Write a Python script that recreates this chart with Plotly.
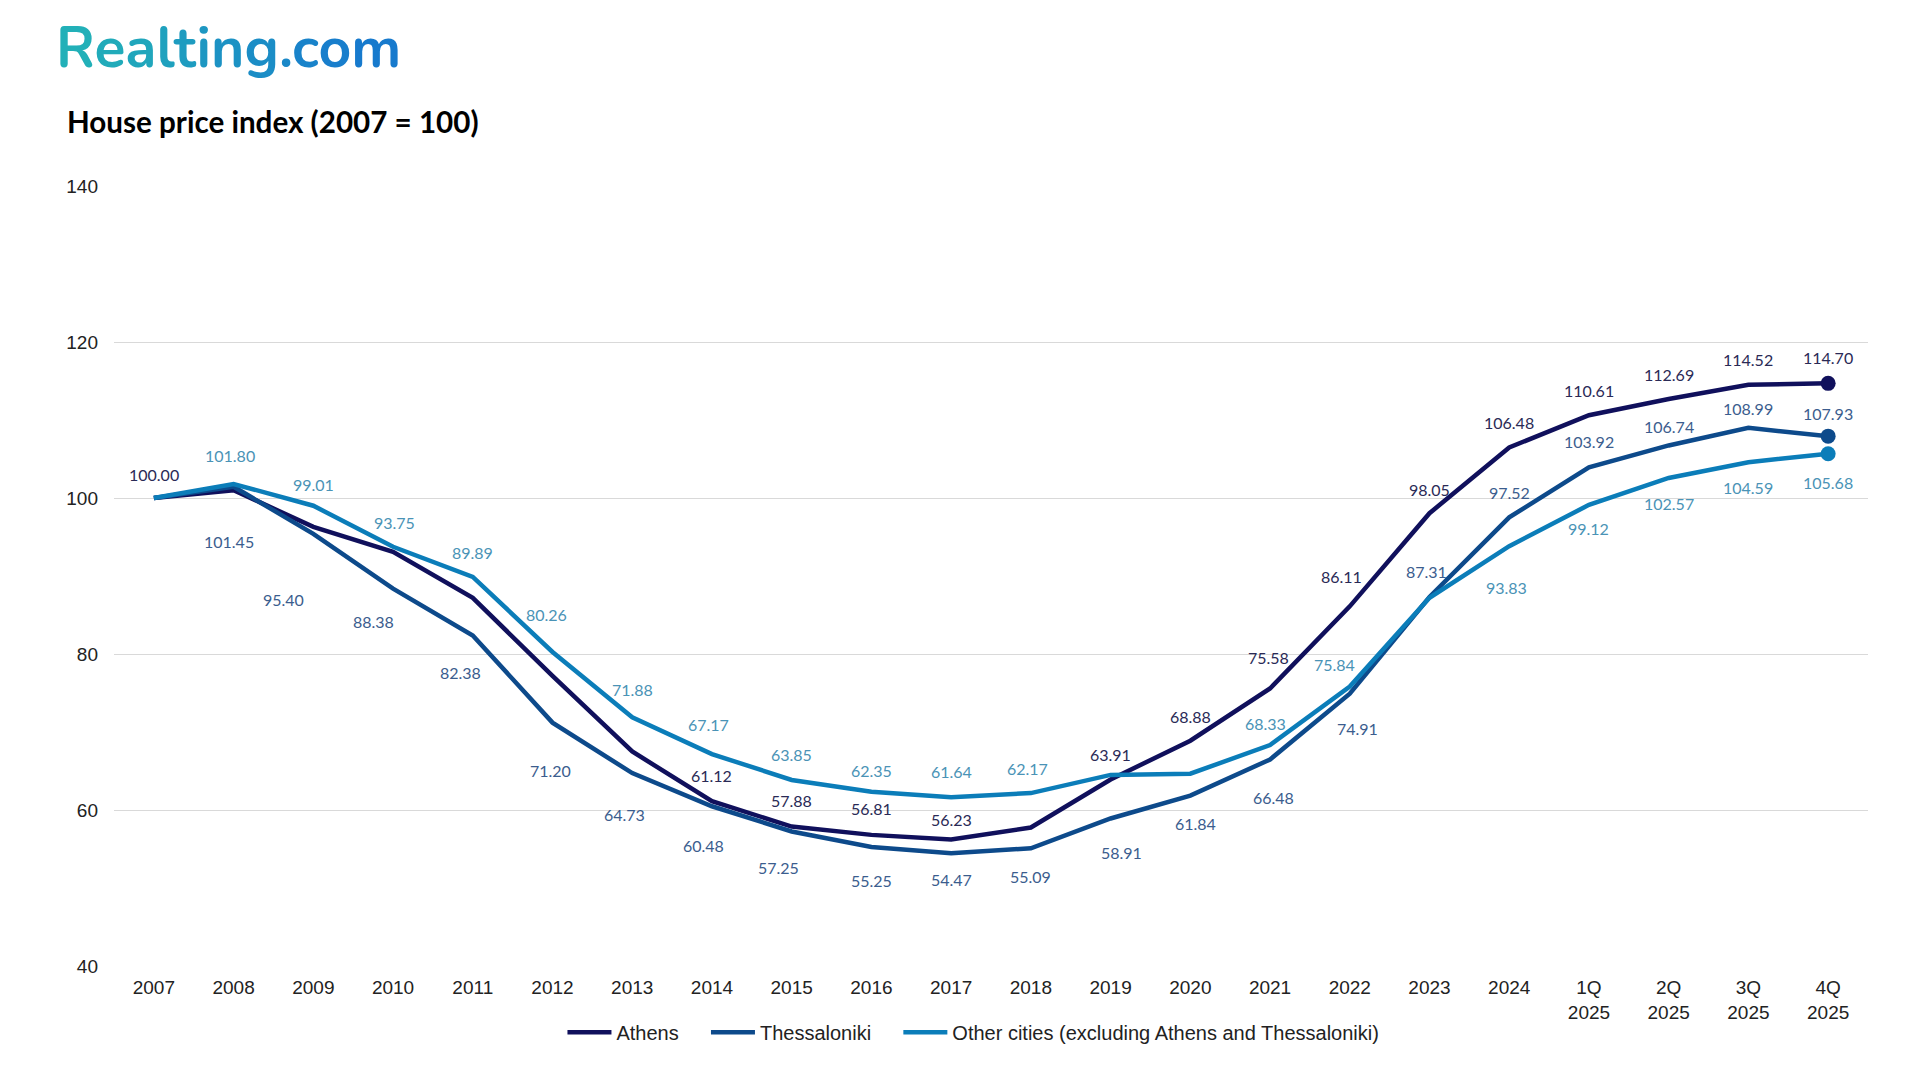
import plotly.graph_objects as go

# ---------------- data ----------------
categories = ["2007", "2008", "2009", "2010", "2011", "2012", "2013", "2014", "2015", "2016",
              "2017", "2018", "2019", "2020", "2021", "2022", "2023", "2024",
              "1Q<br>2025", "2Q<br>2025", "3Q<br>2025", "4Q<br>2025"]

athens = [100.00, 101.00, 96.30, 93.10, 87.20, 77.20, 67.50, 61.12, 57.88, 56.81, 56.23,
          57.75, 63.91, 68.88, 75.58, 86.11, 98.05, 106.48, 110.61, 112.69, 114.52, 114.70]
thessaloniki = [100.00, 101.45, 95.40, 88.38, 82.38, 71.20, 64.73, 60.48, 57.25, 55.25, 54.47,
                55.09, 58.91, 61.84, 66.48, 74.91, 87.31, 97.52, 103.92, 106.74, 108.99, 107.93]
other_cities = [100.00, 101.80, 99.01, 93.75, 89.89, 80.26, 71.88, 67.17, 63.85, 62.35, 61.64,
                62.17, 64.50, 64.65, 68.33, 75.84, 87.20, 93.83, 99.12, 102.57, 104.59, 105.68]

series_names = ["Athens", "Thessaloniki", "Other cities (excluding Athens and Thessaloniki)"]

# ---------------- styles ----------------
line_colors = ["#10105c", "#0d4a8b", "#0b7db9"]
label_colors = ["#2a2a56", "#3b5d8e", "#4a93b6"]

# label placement (pixel shifts: dx right, dy down); None = no label shown
athens_lbl = [(0, -24), None, None, None, None, None, None, (0, -26), (0, -26), (0, -26), (0, -20),
              None, (0, -25), (0, -24), (-2, -31), (-8, -30), (0, -24), (0, -25), (0, -25), (0, -25),
              (0, -25), (0, -26)]
thess_lbl = [None, (-5, 55), (-30, 66), (-20, 33), (-12, 37), (-2, 48), (-8, 41), (-8, 39), (-13, 36),
             (0, 33), (0, 26), (0, 28), (11, 34), (5, 28), (3, 38), (8, 35), (-3, -25), (0, -25),
             (0, -26), (0, -19), (0, -19), (0, -23)]
other_lbl = [None, (-4, -28), (0, -21), (1, -24), (0, -24), (-6, -37), (0, -28), (-3, -30), (0, -25),
             (0, -21), (0, -26), (-3, -25), None, None, (-5, -22), (-15, -22), None, (-3, 41),
             (0, 24), (0, 26), (0, 25), (0, 29)]

all_values = [athens, thessaloniki, other_cities]
all_labels = [athens_lbl, thess_lbl, other_lbl]

# legend entries padded to reproduce the wider spacing between items
legend_pad = "\u00a0" * 4
legend_names = [series_names[0] + legend_pad, series_names[1] + legend_pad, series_names[2]]

fig = go.Figure()

for name, vals, col in zip(legend_names, all_values, line_colors):
    fig.add_trace(go.Scatter(
        x=categories, y=vals, name=name, mode="lines",
        line=dict(color=col, width=4.5),
        hoverinfo="x+y",
    ))

# end-point markers
for vals, col in zip(all_values, line_colors):
    fig.add_trace(go.Scatter(
        x=[categories[-1]], y=[vals[-1]], mode="markers", showlegend=False,
        marker=dict(color=col, size=15), hoverinfo="skip",
    ))

annotations = []
for vals, lbls, lcol in zip(all_values, all_labels, label_colors):
    for i, (v, pos) in enumerate(zip(vals, lbls)):
        if pos is None:
            continue
        dx, dy = pos
        annotations.append(dict(
            x=i, y=v, xref="x", yref="y", text=f"{v:.2f}", showarrow=False,
            xshift=dx, yshift=-dy,
            font=dict(family="Lato, Open Sans, sans-serif", size=16, color=lcol),
        ))

W, H = 1920, 1080
ml, mr, mt, mb = 106, 60, 178, 122
pw, ph = W - ml - mr, H - mt - mb


def px_to_paper(xp, yp):
    return (xp - ml) / pw, ((H - yp) - mb) / ph


# logo (gradient approximated letter by letter)
logo = "Realting.com"
grad = ["#22b0b8", "#21abba", "#20a6bc", "#1fa1be", "#1e9cc0", "#1d97c2",
        "#1c92c4", "#1b8dc6", "#1a88c8", "#1983ca", "#187ecc", "#177acd"]
logo_html = "".join(f"<span style='color:{c}'>{ch}</span>" for ch, c in zip(logo, grad))
lx, ly = px_to_paper(46, 40)
annotations.append(dict(
    x=lx, y=ly, xref="paper", yref="paper", text=f"<b>{logo_html}</b>",
    showarrow=False, xanchor="left", yanchor="middle",
    font=dict(family="Nunito, Lato, Open Sans, sans-serif", size=57),
))
tx, ty = px_to_paper(57, 113)
annotations.append(dict(
    x=tx, y=ty, xref="paper", yref="paper", text="<b>House price index (2007 = 100)</b>",
    showarrow=False, xanchor="left", yanchor="middle",
    font=dict(family="Lato, Inter, sans-serif", size=29.6, color="#000000"),
))

fig.update_layout(
    width=W, height=H,
    margin=dict(l=ml, r=mr, t=mt, b=mb),
    paper_bgcolor="white", plot_bgcolor="white",
    annotations=annotations,
    showlegend=True,
    legend=dict(
        orientation="h", x=0.49, xanchor="center", y=-0.06, yanchor="top",
        font=dict(family="Liberation Sans, Arial, sans-serif", size=20, color="#222222"),
        itemwidth=44, tracegroupgap=0,
    ),
    xaxis=dict(
        type="category", range=[-0.5, len(categories) - 0.5],
        showgrid=False, zeroline=False, showline=False, ticks="",
        tickfont=dict(family="Liberation Sans, Arial, sans-serif", size=19, color="#222222"),
        ticklabelstandoff=8,
        fixedrange=True,
    ),
    yaxis=dict(
        range=[40, 140], dtick=20, tick0=40,
        showgrid=True, gridcolor="#d9d9d9", gridwidth=1.3,
        zeroline=False, showline=False, ticks="",
        tickfont=dict(family="Liberation Sans, Arial, sans-serif", size=19, color="#222222"),
        ticklabelstandoff=15,
        fixedrange=True,
    ),
    font=dict(family="Liberation Sans, Arial, sans-serif"),
)

fig.write_html("out.html")
